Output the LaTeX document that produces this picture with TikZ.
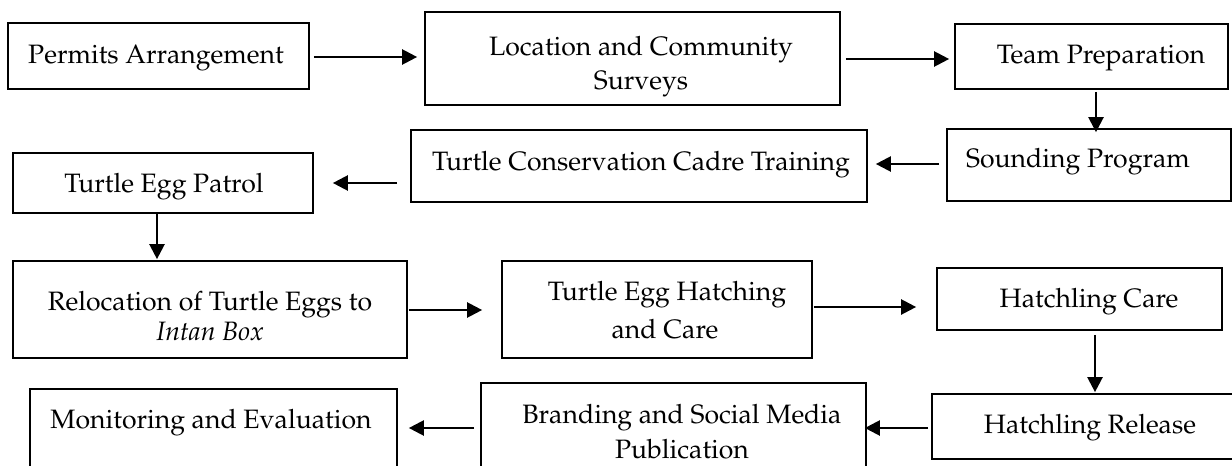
\documentclass[tikz,border=0pt]{standalone}
\usepackage[T1]{fontenc}
\usepackage{mathpazo}
\usetikzlibrary{arrows.meta,calc}
\begin{document}
\begin{tikzpicture}[x=0.5pt,y=-0.5pt,
  box/.style={draw,line width=0.85pt,inner sep=0pt,rectangle},
  txt/.style={anchor=base,inner sep=0pt,font=\fontsize{13.3}{16}\selectfont},
  arr/.style={line width=1.15pt,-{Triangle[length=7.5pt,width=7.5pt]}}]
\useasboundingbox (0,0) rectangle (1232,466);
\clip (0,0) rectangle (1232,466);
% boxes
\node[box,minimum width=150.5pt,minimum height=33pt] (b1) at (158.5,56) {};
\node[box,minimum width=207.5pt,minimum height=46.5pt] (b2) at (632.5,58.5) {};
\node[box,minimum width=136.5pt,minimum height=32.5pt] (b3) at (1091.5,56.5) {};
\node[box,minimum width=142pt,minimum height=36pt] (b4) at (1089,165) {};
\node[box,minimum width=228pt,minimum height=36pt] (b5) at (639,166) {};
\node[box,minimum width=150pt,minimum height=30pt] (b6) at (163,183) {};
\node[box,minimum width=197pt,minimum height=48.5pt] (b7) at (210,309.5) {};
\node[box,minimum width=155pt,minimum height=48.5pt] (b8) at (657,309.5) {};
\node[box,minimum width=142.5pt,minimum height=31pt] (b9) at (1079.5,299) {};
\node[box,minimum width=154pt,minimum height=32.5pt] (b10) at (1086,426.5) {};
\node[box,minimum width=192.5pt,minimum height=48.5pt] (b11) at (673.5,431.5) {};
\node[box,minimum width=183.5pt,minimum height=45.5pt] (b12) at (213.5,434.5) {};
% texts
\node[txt] (t1) at (156,63) {Permits Arrangement};
\node[txt] (t2a) at (641,55) {Location and Community};
\node[txt] (t2b) at (641,89) {Surveys};
\node[txt] (t3) at (1101,63) {Team Preparation};
\node[txt] (t4) at (1078,167) {Sounding Program};
\node[txt] (t5) at (641,170) {Turtle Conservation Cadre Training};
\node[txt] (t6) at (164,192) {Turtle Egg Patrol};
\node[txt] (t7a) at (210,310) {Relocation of Turtle Eggs to};
\node[txt] (t7b) at (210,340) {\itshape Intan Box};
\node[txt] (t8a) at (667,300) {Turtle Egg Hatching};
\node[txt] (t8b) at (665,338) {and Care};
\node[txt] (t9) at (1089,307) {Hatchling Care};
\node[txt] (t10) at (1090,433) {Hatchling Release};
\node[txt] (t11a) at (682,423) {Branding and Social Media};
\node[txt] (t11b) at (682,458) {Publication};
\node[txt] (t12) at (211,428) {Monitoring and Evaluation};
% connectors
\draw[arr] ($(b1.east)+(4,1)$) -- ($(b2.west)+(-7,-1.5)$);
\draw[arr] ($(b2.east)+(5,0.5)$) -- ($(b3.west)+(-5,2.5)$);
\draw[arr] ($(b3.south)+(4.5,2)$) -- ($(b4.north)+(7,4)$);
\draw[arr] ($(b4.west)+(-7,-1)$) -- ($(b5.east)+(8,-2)$);
\draw[arr] ($(b5.west)+(-13,17)$) -- ($(b6.east)+(19,0)$);
\draw[arr] ($(b6.south)+(-6,0)$) -- ($(b7.north)+(-53,-1)$);
\draw[arr] ($(b7.east)+(1,0.5)$) -- ($(b8.west)+(-19,0.5)$);
\draw[arr] ($(b8.east)+(1,-2.5)$) -- ($(b9.west)+(-20,8)$);
\draw[arr] ($(b9.south)+(15.5,4)$) -- ($(b10.north)+(9,-1)$);
\draw[arr] ($(b10.west)+(-3,1.5)$) -- ($(b11.east)+(-2,-3.5)$);
\draw[arr] ($(b11.west)+(-6,-3.5)$) -- ($(b12.east)+(11,-6.5)$);
\end{tikzpicture}
\end{document}
